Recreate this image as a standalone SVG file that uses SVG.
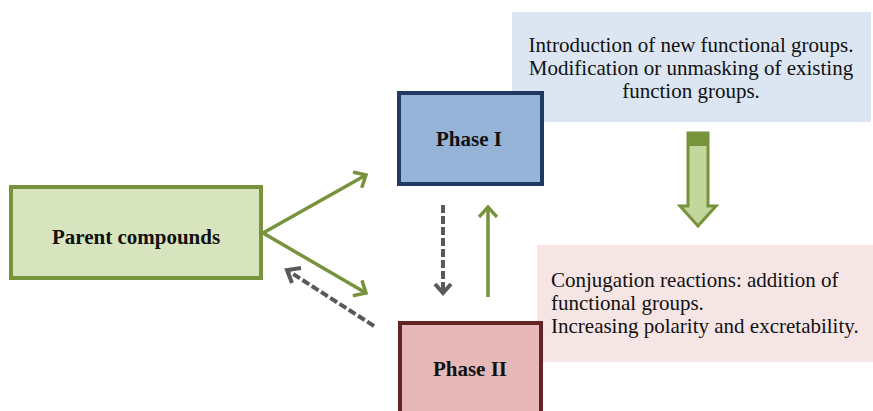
<svg xmlns="http://www.w3.org/2000/svg" width="873" height="411" viewBox="0 0 873 411">
<defs>
<style>
.t{font-family:"Liberation Serif","Times New Roman",serif;fill:#111;}
.b{font-weight:bold;font-size:21px;text-anchor:middle;}
.d{font-size:21px;}
.g{stroke:#77933c;stroke-width:3.5;fill:none;}
.k{stroke:#595959;stroke-width:4;fill:none;stroke-dasharray:8,3;}
.h{fill:none;stroke-width:4;stroke-linejoin:miter;}
</style>
<marker id="ag" markerWidth="14" markerHeight="20" refX="11" refY="10" orient="auto" markerUnits="userSpaceOnUse" viewBox="0 0 14 20">
<path d="M1,1 L11,10 L1,19" fill="none" stroke="#77933c" stroke-width="3.5"/>
</marker>
</defs>
<rect width="873" height="411" fill="#fff"/>
<g id="desc1">
<rect x="512" y="12" width="359" height="110" fill="#dce6f2"/>
<text class="t d" text-anchor="middle"><tspan x="691" y="52">Introduction of new functional groups.</tspan><tspan x="691" y="75">Modification or unmasking of existing</tspan><tspan x="691" y="98">function groups.</tspan></text>
</g>
<g id="desc2">
<rect x="537" y="245" width="336" height="117" fill="#f5e5e5"/>
<text class="t d"><tspan x="551" y="287">Conjugation reactions: addition of</tspan><tspan x="551" y="310">functional groups.</tspan><tspan x="551" y="333">Increasing polarity and excretability.</tspan></text>
</g>
<g id="parent">
<rect x="11" y="187" width="250" height="91" fill="#d7e4bd" stroke="#77933c" stroke-width="4"/>
<text class="t b" x="136" y="244">Parent compounds</text>
</g>
<g id="phase1">
<rect x="399" y="93" width="143" height="91" fill="#95b3d7" stroke="#1f3864" stroke-width="4"/>
<text class="t b" x="469" y="146">Phase I</text>
</g>
<g id="phase2">
<rect x="400" y="323" width="141" height="92" fill="#e6b9b8" stroke="#632523" stroke-width="4"/>
<text class="t b" x="470" y="376">Phase II</text>
</g>
<g id="connectors">
<path class="g" d="M263,233 L366,175" marker-end="url(#ag)"/>
<path class="g" d="M263,233 L366,293" marker-end="url(#ag)"/>
<path class="g" d="M488,297 L488,207" marker-end="url(#ag)"/>
<path class="k" d="M374,326 L290,272"/>
<path class="h" d="M301,268 L287,270 L292,283" stroke="#595959"/>
<path class="k" d="M443,205 L443,293"/>
<path class="h" d="M435,284 L443,293 L451,284" stroke="#595959"/>
<path d="M688,133 L708,133 L708,206 L716,206 L698,226 L680,206 L688,206 Z" fill="#c3d69b" stroke="#77933c" stroke-width="3"/>
<rect x="689" y="134" width="18" height="12" fill="#77933c"/>
</g>
</svg>
